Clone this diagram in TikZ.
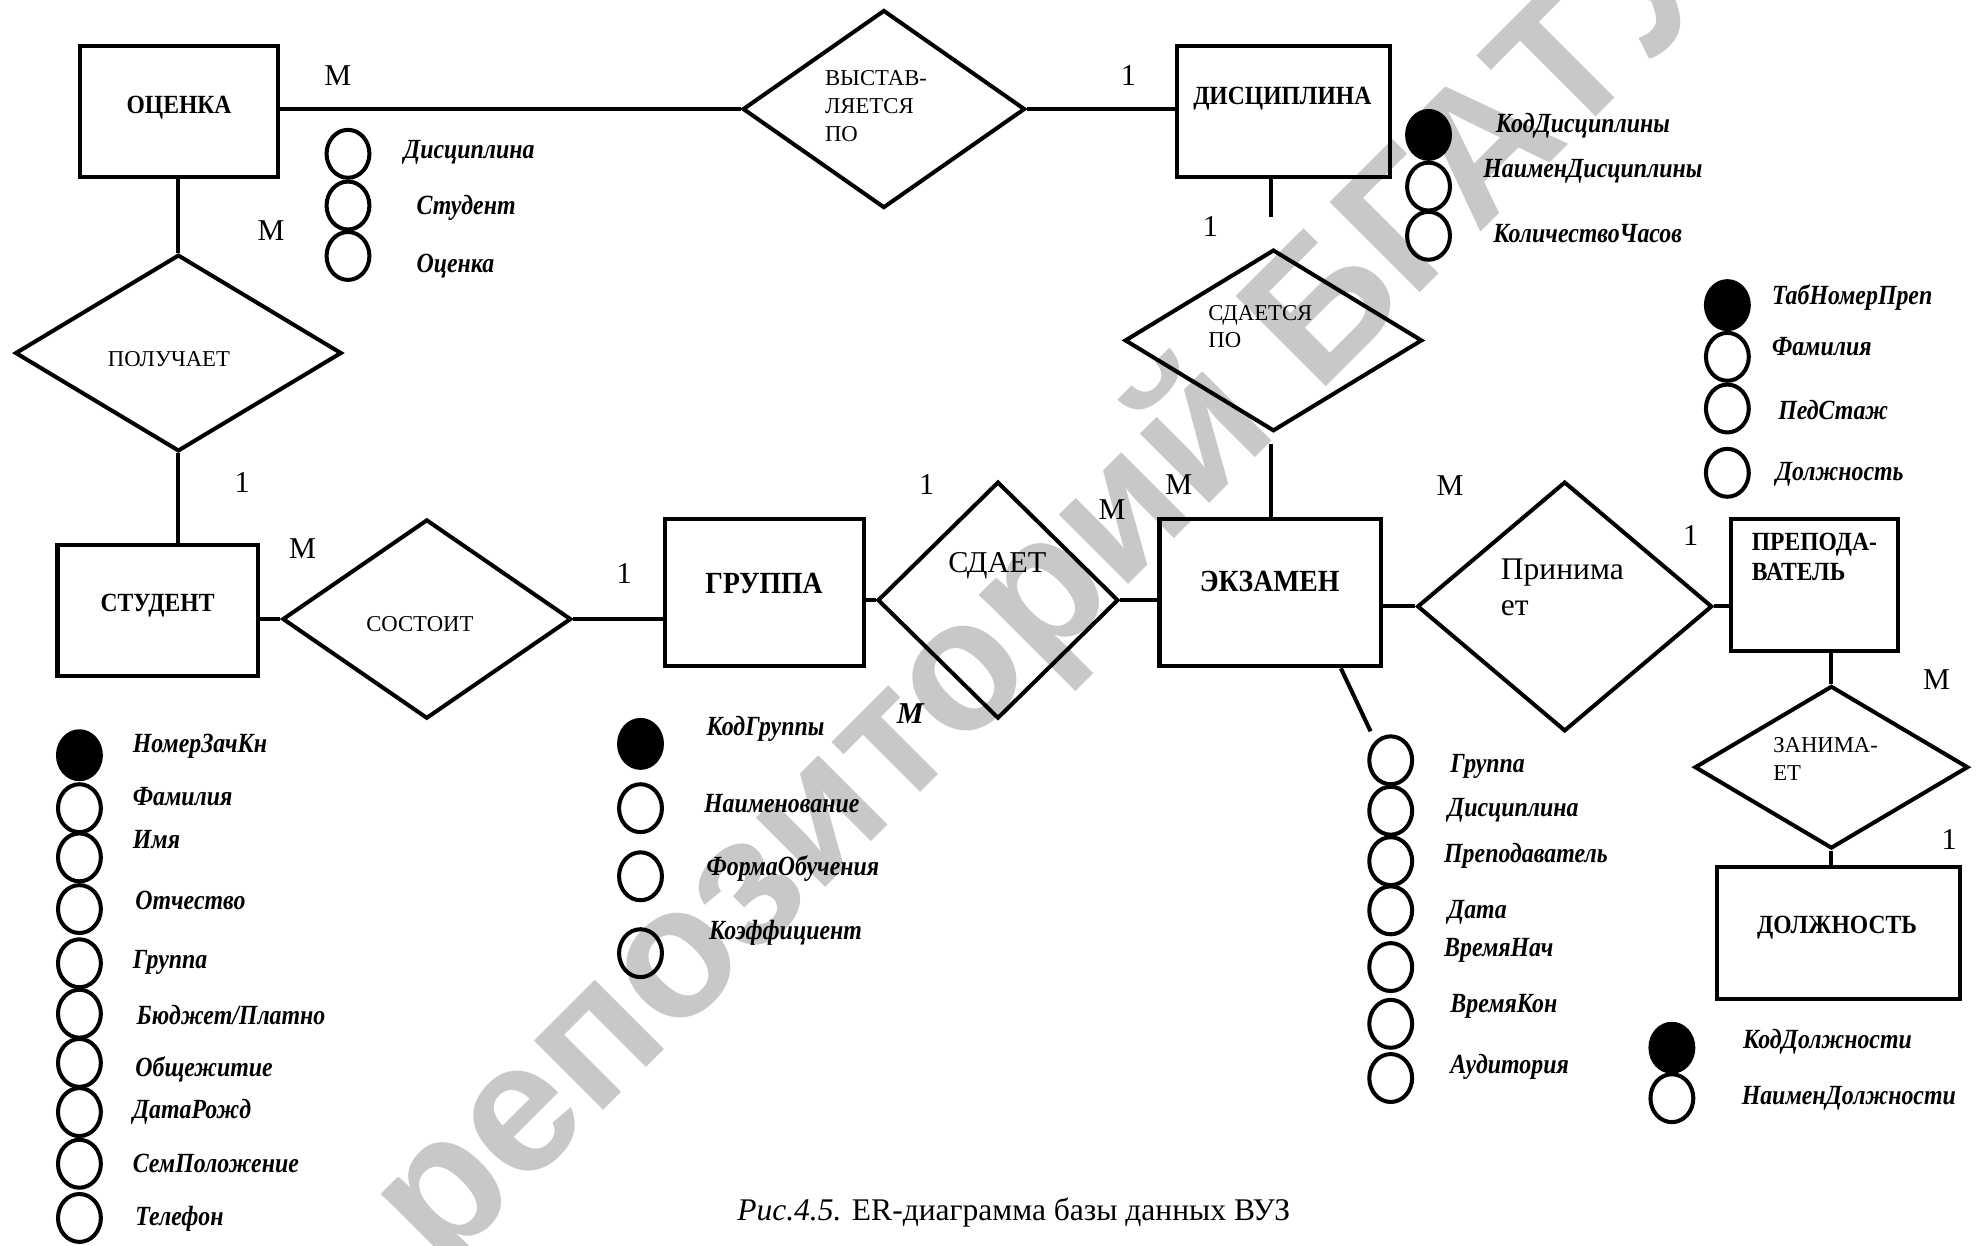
\documentclass[tikz,border=0pt]{standalone}
\usepackage{fontspec}
\setmainfont{Liberation Serif}
\newfontfamily\wmfont{Liberation Sans}
\newfontfamily\entfont{Liberation Serif}[FakeStretch=0.9]
\newfontfamily\attrfont{Liberation Serif}[FakeStretch=0.86]
\usepackage{tikz}
\usetikzlibrary{shapes.geometric}
\definecolor{wmgray}{RGB}{200,200,200}
\tikzset{%
  entbox/.style={rectangle,draw,line width=1.6pt,inner sep=0pt}
}
\tikzset{%
  relbox/.style={diamond,draw,line width=1.6pt,inner sep=0pt,aspect=1}
}
\tikzset{%
  attr/.style={ellipse,draw,line width=1.6pt,minimum width=17pt,minimum height=19pt,inner sep=0pt},
  keyattr/.style={attr,fill=black}
}
\tikzset{%
  enttext/.style={font=\entfont\bfseries\fontsize{10.4}{12}\selectfont,inner sep=0pt},
  bigtext/.style={font=\entfont\bfseries\fontsize{12.2}{14}\selectfont,inner sep=0pt},
  reltext/.style={font=\fontsize{9}{11}\selectfont,inner sep=0pt,align=left},
  attrtext/.style={font=\attrfont\bfseries\itshape\fontsize{11}{13}\selectfont,inner sep=0pt,anchor=west},
  card/.style={font=\fontsize{12}{12}\selectfont,inner sep=0pt},
  wmark/.style={font=\wmfont\bfseries\fontsize{73.5}{73.5}\selectfont,text=wmgray,rotate=45,inner sep=0pt}
}
\begin{document}
\begin{tikzpicture}[x=0.5pt,y=-0.5pt]
  \path[use as bounding box,fill=white] (0,0) rectangle (1568,988);
  \node[wmark](wm) at (832,471) {репозиторий БГАТУ};

  % сущности
  \node[entbox,minimum width=78.4pt,minimum height=51.9pt](ocenka) at (142,88.5) {};
  \node[enttext](ocenkat) at (142,85) {ОЦЕНКА};
  \node[entbox,minimum width=84.4pt,minimum height=51.9pt](disc) at (1018,88.5) {};
  \node[enttext](disct) at (1017,78) {ДИСЦИПЛИНА};
  \node[entbox,minimum width=79.4pt,minimum height=51.9pt](student) at (125,484.5) {};
  \node[enttext](studentt) at (125,480) {СТУДЕНТ};
  \node[entbox,minimum width=78.9pt,minimum height=58.4pt](gruppa) at (606.5,470) {};
  \node[bigtext](gruppat) at (606,463) {ГРУППА};
  \node[entbox,minimum width=87.9pt,minimum height=58.4pt](exam) at (1007.5,470) {};
  \node[bigtext](examt) at (1007,461) {ЭКЗАМЕН};
  \node[entbox,minimum width=66.4pt,minimum height=52.4pt](prep) at (1439,464) {};
  \node[enttext,align=left,anchor=west](prept) at (1389,442) {ПРЕПОДА-\\ВАТЕЛЬ};
  \node[entbox,minimum width=96.4pt,minimum height=52.4pt](dolzh) at (1458,740) {};
  \node[enttext](dolzht) at (1457,736) {ДОЛЖНОСТЬ};

  % связи
  \node[relbox,minimum width=112pt,minimum height=78.5pt](vyst) at (701,86.5) {};
  \node[reltext,anchor=west](vystt) at (654,84) {ВЫСТАВ-\\ЛЯЕТСЯ\\ПО};
  \node[relbox,minimum width=129.5pt,minimum height=78pt](poluch) at (141.5,280) {};
  \node[reltext](poluct) at (134,285) {ПОЛУЧАЕТ};
  \node[relbox,minimum width=118pt,minimum height=72pt](sdaetsya) at (1010,270) {};
  \node[reltext,anchor=west](sdaetsyat) at (958,259) {СДАЕТСЯ\\ПО};
  \node[relbox,minimum width=114.5pt,minimum height=79pt](sostoit) at (338.5,491) {};
  \node[reltext](sostoitt) at (333,495) {СОСТОИТ};
  \node[relbox,minimum width=95.5pt,minimum height=94pt](sdaet) at (791.5,476) {};
  \node[reltext,font=\fontsize{12}{14}\selectfont](sdaett) at (791,449) {СДАЕТ};
  \node[relbox,minimum width=117pt,minimum height=99pt](prinim) at (1241,481) {};
  \node[reltext,anchor=west,font=\fontsize{12.5}{14.5}\selectfont](prinimt) at (1190,466) {Принима\\ет};
  \node[relbox,minimum width=108.5pt,minimum height=64.5pt](zanim) at (1452.5,608.5) {};
  \node[reltext,anchor=west](zanimt) at (1406,602) {ЗАНИМА-\\ЕТ};

  \coordinate (dsend) at (1008,172);
  \coordinate (sxend) at (1008,352);
  \coordinate (exdiag) at (1087,580);

  \begin{scope}[line width=1.6pt]
    \draw (vyst.west) -- (vyst.west -| ocenka.east);
    \draw (vyst.east) -- (vyst.east -| disc.west);
    \draw (poluch.north) -- (poluch.north |- ocenka.south);
    \draw (poluch.south) -- (poluch.south |- student.north);
    \draw (sostoit.west) -- (sostoit.west -| student.east);
    \draw (sostoit.east) -- (sostoit.east -| gruppa.west);
    \draw (sdaet.west) -- (sdaet.west -| gruppa.east);
    \draw (sdaet.east) -- (sdaet.east -| exam.west);
    \draw (dsend |- disc.south) -- (dsend);
    \draw (sxend) -- (sxend |- exam.north);
    \draw (prinim.west) -- (prinim.west -| exam.east);
    \draw (prinim.east) -- (prinim.east -| prep.west);
    \draw (zanim.north) -- (zanim.north |- prep.south);
    \draw (zanim.south) -- (zanim.south |- dolzh.north);
    \draw (exam.-47) -- (exdiag);
  \end{scope}

  % кардинальности
  \foreach \x/\y/\t [count=\i] in {268/60/М,895/60/1,215/183/М,192/383/1,960/180/1,
      240/435/М,495/455/1,735/384/1,935/384/М,882/404/М,1150/385/М,1341/425/1,
      1536/539/М,1546/666/1}
    \node[card](c\i) at (\x,\y) {\t};
  \node[card,font=\bfseries\itshape\fontsize{12}{12}\selectfont](cm) at (722,566) {М};

  % атрибуты
  \foreach \ey/\s/\tx/\ty/\t [count=\i] in {122/attr/320/121/Дисциплина,
      163/attr/330/165/Студент,203/attr/330/211/Оценка}
    {\node[\s](oa\i) at (276,\ey) {};
     \node[attrtext](oat\i) at (\tx,\ty) {\t};}
  \foreach \ey/\s/\tx/\ty/\t [count=\i] in {107/keyattr/1186/100/КодДисциплины,
      148/attr/1176/136/НаименДисциплины,187/attr/1184/185/КоличествоЧасов}
    {\node[\s](da\i) at (1133,\ey) {};
     \node[attrtext](dat\i) at (\tx,\ty) {\t};}
  \foreach \ey/\s/\tx/\ty/\t [count=\i] in {242/keyattr/1405/236/ТабНомерПреп,
      283/attr/1405/275/Фамилия,324/attr/1410/325/ПедСтаж,375/attr/1408/376/Должность}
    {\node[\s](pa\i) at (1370,\ey) {};
     \node[attrtext](pat\i) at (\tx,\ty) {\t};}
  \foreach \ey/\s/\tx/\ty/\t [count=\i] in {599/keyattr/105/592/НомерЗачКн,
      641/attr/105/632/Фамилия,680/attr/105/666/Имя,721/attr/107/714/Отчество,
      764/attr/105/763/Группа,804/attr/108/805/{Бюджет/Платно},
      843/attr/107/848/Общежитие,882/attr/105/882/ДатаРожд,
      923/attr/105/923/СемПоложение,966/attr/107/967/Телефон}
    {\node[\s](sa\i) at (63,\ey) {};
     \node[attrtext](sat\i) at (\tx,\ty) {\t};}
  \foreach \ey/\s/\tx/\ty/\t [count=\i] in {590/keyattr/560/578/КодГруппы,
      641/attr/558/637/Наименование,695/attr/560/689/ФормаОбучения,
      756/attr/562/740/Коэффициент}
    {\node[\s](ga\i) at (508,\ey) {};
     \node[attrtext](gat\i) at (\tx,\ty) {\t};}
  \foreach \ey/\tx/\ty/\t [count=\i] in {603/1150/608/Группа,643/1148/643/Дисциплина,
      683/1145/679/Преподаватель,722/1148/724/Дата,767/1145/754/ВремяНач,
      812/1150/798/ВремяКон,855/1150/846/Аудитория}
    {\node[attr](ea\i) at (1103,\ey) {};
     \node[attrtext](eat\i) at (\tx,\ty) {\t};}
  \foreach \ey/\s/\tx/\ty/\t [count=\i] in {831/keyattr/1382/826/КодДолжности,
      871/attr/1381/871/НаименДолжности}
    {\node[\s](la\i) at (1326,\ey) {};
     \node[attrtext](lat\i) at (\tx,\ty) {\t};}

  \node[font=\fontsize{12.5}{14}\selectfont,inner sep=0pt](caption) at (804,962)
    {\textit{Рис.4.5.} ER-диаграмма базы данных ВУЗ};
\end{tikzpicture}
\end{document}
